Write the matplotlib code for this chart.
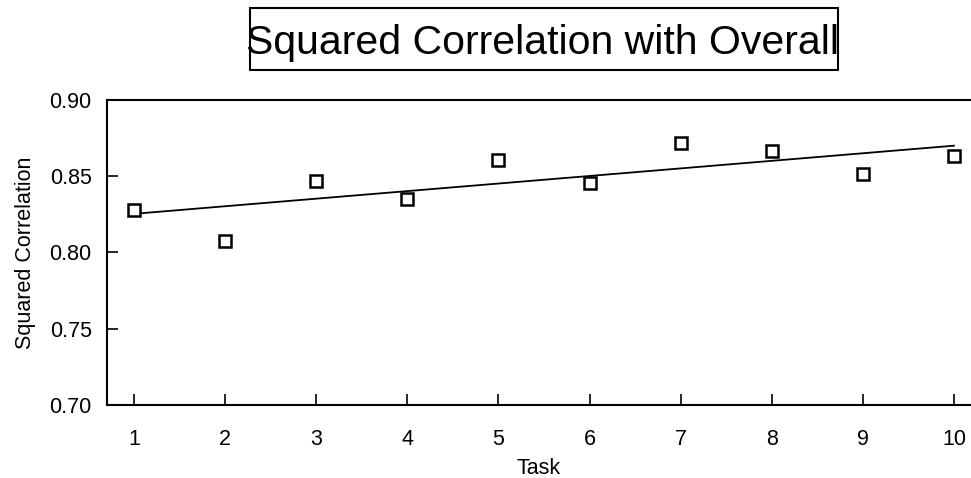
import numpy as np
import matplotlib
matplotlib.use("Agg")
import matplotlib.pyplot as plt
from matplotlib.patches import Rectangle

plt.rcParams['font.family'] = ['Liberation Sans', 'DejaVu Sans']

tasks = [1, 2, 3, 4, 5, 6, 7, 8, 9, 10]
sq_corr = [0.828, 0.8075, 0.847, 0.835, 0.8607, 0.8456, 0.8718, 0.8666, 0.8515, 0.8633]
yticks = [0.70, 0.75, 0.80, 0.85, 0.90]

W, H = 971, 478
fig = plt.figure(figsize=(W/100, H/100), dpi=100)
ax = fig.add_axes([107/W, 1-405/H, 1-107/W, (405-100)/H])

ax.plot(tasks, sq_corr, linestyle='none', marker='s', markersize=9,
        markerfacecolor='white', markeredgecolor='black', markeredgewidth=1.8, zorder=3)
coef = np.polyfit(tasks, sq_corr, 1)
fit = np.polyval(coef, tasks)
ax.plot(tasks, fit, color='black', linewidth=1.3, zorder=2)

ax.set_xlim(0.704, 10.187)
ax.set_ylim(0.70, 0.90)
ax.set_xticks(tasks)
ax.set_yticks(yticks)
ax.set_yticklabels([f"{v:.2f}" for v in yticks])
ax.tick_params(direction='in', length=8, width=1.2, labelsize=15.5, colors='black')
ax.tick_params(axis='x', pad=17)
ax.tick_params(axis='y', pad=11)
for s in ['left', 'bottom', 'top']:
    ax.spines[s].set_linewidth(1.5)
ax.spines['right'].set_visible(False)

ax.set_xlabel('Task', fontsize=15.5, labelpad=6)
ax.set_ylabel('Squared Correlation', fontsize=15.5, labelpad=10)

# title box
fig.patches.append(Rectangle((250/W, 1-70/H), (838-250)/W, 62/H, transform=fig.transFigure,
                             facecolor='white', edgecolor='black', linewidth=1.5, zorder=1))
fig.text(542.5/W, 1-54/H, 'Squared Correlation with Overall', fontsize=29.5,
         ha='center', va='baseline', zorder=2)

fig.savefig('out.png', dpi=100)
